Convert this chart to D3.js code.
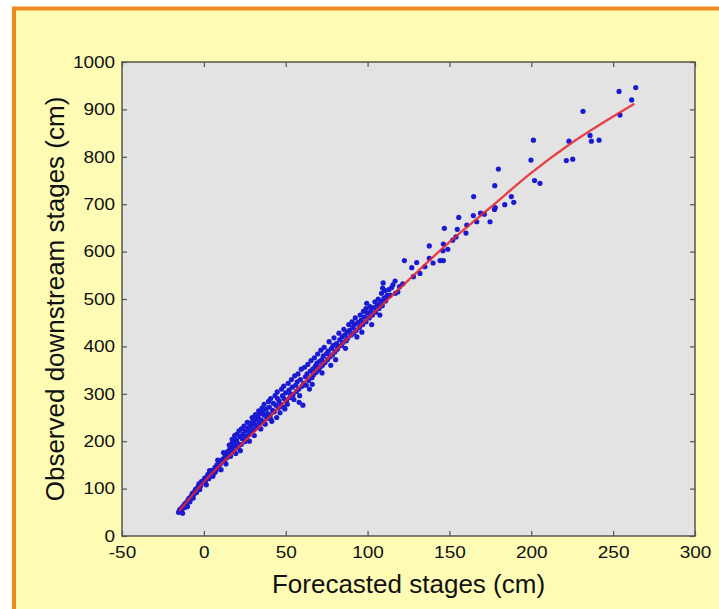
<!DOCTYPE html>
<html>
<head>
<meta charset="utf-8">
<script src="https://cdn.jsdelivr.net/npm/d3@7"></script>
<style>
  html, body { margin: 0; padding: 0; background: #fff; }
  svg { display: block; }
</style>
</head>
<body>
<svg id="chart"></svg>
<script>
// tick values
const xTicks = [-50, 0, 50, 100, 150, 200, 250, 300];
const yTicks = [0, 100, 200, 300, 400, 500, 600, 700, 800, 900, 1000];

// red fitted curve [forecast, observed]
const fitLine = [
  [-15, 53], [0, 114], [25, 200], [50, 285], [75, 372], [100, 458],
  [125, 540], [150, 620], [175, 693], [200, 766], [225, 830], [250, 885], [263, 912]
];

// scatter points [forecast, observed]
const observed = [
  [-15.5, 50], [-14.8, 55], [-14, 58], [-13.5, 54], [-12.8, 62], [-12, 66], [-11, 70], [-10.5, 68],
  [-9.8, 75], [-9, 80], [-8.2, 78], [-7.5, 86], [-7, 90], [-6, 88], [-5.5, 95], [-5, 99],
  [-4, 97], [-3.5, 104], [-3, 110], [-2, 106], [-1.5, 115], [-1, 112], [0, 118], [0.5, 122],
  [1, 116], [1.8, 125], [2.5, 130], [3, 121], [3.8, 128], [4.5, 134], [5, 138], [6, 132],
  [6.8, 145], [7.5, 140], [8, 150], [9, 147], [9.5, 155], [10, 152], [11, 160], [11.8, 163],
  [12.5, 158], [13, 170], [14, 165], [14.5, 178], [15, 174], [16, 185], [16.8, 180], [17, 195],
  [17.5, 188], [18, 200], [18.5, 178], [19, 190], [20, 203], [20.5, 196], [21, 186], [22, 210],
  [22.8, 193], [23.5, 205], [24, 215], [25, 199], [25.5, 222], [26, 210], [27, 228], [27.5, 214],
  [28, 238], [28.5, 220], [29, 232], [30, 241], [30.5, 224], [31, 236], [32, 246], [32.5, 229],
  [33, 252], [34, 238], [34.5, 258], [35, 245], [36, 262], [36.5, 240], [37, 255], [38, 268],
  [38.5, 248], [39, 258], [40, 272], [40.5, 255], [41, 246], [42, 265], [42.5, 280], [43, 262],
  [44, 276], [44.5, 250], [45, 290], [45.5, 270], [46, 285], [47, 278], [48, 296], [48.5, 272],
  [49, 290], [50, 302], [50.5, 285], [51, 278], [52, 308], [52.5, 292], [53, 300], [54, 314],
  [54.5, 298], [55, 288], [56, 318], [56.5, 305], [57, 325], [58, 310], [58.5, 296], [59, 330],
  [60, 316], [60.5, 276], [61, 322], [62, 336], [62.5, 318], [63, 342], [64, 328], [64.5, 310],
  [65, 348], [66, 334], [66.5, 352], [67, 340], [68, 358], [68.5, 345], [69, 364], [70, 350],
  [70.5, 368], [71, 356], [72, 372], [72.5, 360], [73, 380], [74, 366], [75, 385], [75.5, 372],
  [76, 390], [77, 378], [78, 396], [78.5, 382], [79, 402], [80, 388], [81, 406], [81.5, 394],
  [82, 398], [83, 414], [84, 402], [84.5, 420], [85, 408], [86, 424], [87, 412], [87.5, 430],
  [88, 418], [89, 434], [90, 424], [91, 440], [91.5, 428], [92, 446], [93, 434], [94, 450],
  [95, 440], [96, 455], [97, 446], [98, 462], [99, 452], [99.5, 491], [100, 470], [101, 460],
  [102, 475], [103, 466], [104, 482], [105, 472], [106, 488], [107, 480], [108, 495], [109, 486],
  [109.5, 534], [110, 502], [111, 496], [112, 508],
  [-13, 48], [-11.5, 60], [-10, 62], [-8.5, 72], [-6.5, 80], [-4.5, 92], [-2.5, 98], [1.5, 108],
  [3.5, 138], [5.5, 126], [7, 135], [8.5, 160], [10.5, 140], [12, 176], [13.5, 152], [15.5, 192],
  [16.3, 168], [17.3, 204], [18.8, 212], [19.5, 174], [20.2, 215], [21.5, 222], [22.3, 180], [23, 226],
  [24.5, 232], [26.5, 240], [27.8, 200], [29.5, 250], [30.8, 212], [31.5, 256], [33.5, 264], [34.8, 226],
  [35.5, 270], [36.8, 278], [37.5, 236], [39.5, 284], [40.8, 290], [41.5, 242], [43.5, 296], [44.8, 304],
  [46.5, 260], [47.5, 310], [48.8, 316], [49.5, 268], [51.5, 322], [53.5, 330], [55.5, 338], [57.5, 342],
  [58.2, 282], [59.5, 352], [61.5, 356], [63.5, 362], [65.5, 370], [66.2, 320], [67.5, 376], [69.5, 384],
  [71.5, 392], [72.2, 344], [73.5, 398], [76.5, 410], [77.5, 360], [79.5, 418], [80.5, 372], [82.5, 428],
  [85.5, 436], [86.5, 396], [88.5, 446], [90.5, 452], [92.5, 460], [93.5, 420], [95.5, 466], [96.5, 430],
  [97.5, 474], [99, 480], [101.5, 484], [102.5, 446], [104.5, 494], [106.5, 500], [107.5, 466], [108.5, 512],
  [110.5, 518], [113, 520], [115.5, 530], [117, 512],
  [109.2, 523], [111.8, 505], [113.7, 508], [114.7, 524], [116.8, 538], [118.5, 515], [119.5, 526],
  [121.5, 532], [122.5, 581], [127, 566], [128, 547], [130, 577], [132, 554], [135, 568],
  [137.7, 586], [137.7, 612], [140, 576], [144.3, 581], [146, 602], [146.3, 581], [146.3, 616],
  [146.9, 649], [149, 605], [152, 624], [154, 631], [154.8, 647], [155.7, 672], [160.1, 639],
  [160.6, 656], [164.6, 676], [164.8, 716], [166.7, 663], [169, 681], [171.3, 679], [174.8, 663],
  [177.5, 689], [177.7, 739], [178, 693], [179.9, 774], [183.8, 699], [187.8, 716], [189.3, 704],
  [199.8, 793], [201.3, 835], [202, 750], [205.3, 744], [221.4, 792], [223, 833], [225.3, 795],
  [231.6, 896], [235.9, 845], [236.7, 833], [241.4, 835], [253.6, 938], [254.2, 888],
  [261.3, 920], [263.8, 946]
];

const W = 719, H = 609;
const svg = d3.select('#chart').attr('width', W).attr('height', H);

// page background panel
svg.append('rect')
  .attr('x', 14).attr('y', 8.5)
  .attr('width', 760).attr('height', 660)
  .attr('fill', '#fefcb4')
  .attr('stroke', '#ee8a1e')
  .attr('stroke-width', 4);

const x = d3.scaleLinear().domain([-50, 300]).range([122, 695]);
const y = d3.scaleLinear().domain([0, 1000]).range([536, 62]);

// plot area
svg.append('rect')
  .attr('x', x(-50)).attr('y', y(1000))
  .attr('width', x(300) - x(-50)).attr('height', y(0) - y(1000))
  .attr('fill', '#e3e3e3');

// scatter
svg.append('g')
  .selectAll('circle')
  .data(observed)
  .join('circle')
  .attr('cx', d => x(d[0]))
  .attr('cy', d => y(d[1]))
  .attr('r', 2.6)
  .attr('fill', '#1a1ad2');

// fitted curve
svg.append('path')
  .datum(fitLine)
  .attr('fill', 'none')
  .attr('stroke', '#e8262b')
  .attr('stroke-opacity', 0.85)
  .attr('stroke-width', 2.4)
  .attr('d', d3.line().x(d => x(d[0])).y(d => y(d[1])).curve(d3.curveMonotoneX));

// axes with inward ticks
const fontFam = 'Liberation Sans, Arial, sans-serif';
const frameColor = '#55554a';

const styleAxis = g => {
  g.select('.domain').remove();
  g.selectAll('.tick line').attr('stroke', frameColor).attr('stroke-width', 1.2);
  g.selectAll('.tick text')
    .attr('fill', '#111')
    .attr('font-size', 16.5)
    .attr('font-family', fontFam)
    .attr('transform', 'scale(1.15,1)');
};

const plain = d => String(d);

svg.append('g')
  .attr('transform', `translate(0,${y(0)})`)
  .call(d3.axisBottom(x).tickValues(xTicks).tickFormat(plain).tickSizeInner(-5).tickSizeOuter(0).tickPadding(10))
  .call(styleAxis);

svg.append('g')
  .attr('transform', `translate(0,${y(1000)})`)
  .call(d3.axisTop(x).tickValues(xTicks).tickSizeInner(-5).tickSizeOuter(0).tickFormat(''))
  .call(styleAxis);

svg.append('g')
  .attr('transform', `translate(${x(-50)},0)`)
  .call(d3.axisLeft(y).tickValues(yTicks).tickFormat(plain).tickSizeInner(-5).tickSizeOuter(0).tickPadding(6))
  .call(styleAxis);

svg.append('g')
  .attr('transform', `translate(${x(300)},0)`)
  .call(d3.axisRight(y).tickValues(yTicks).tickSizeInner(-5).tickSizeOuter(0).tickFormat(''))
  .call(styleAxis);

// frame
svg.append('rect')
  .attr('x', x(-50)).attr('y', y(1000))
  .attr('width', x(300) - x(-50)).attr('height', y(0) - y(1000))
  .attr('fill', 'none')
  .attr('stroke', frameColor)
  .attr('stroke-width', 1.5);

// axis titles
svg.append('text')
  .attr('x', (x(-50) + x(300)) / 2)
  .attr('y', 593)
  .attr('text-anchor', 'middle')
  .attr('font-family', fontFam)
  .attr('font-size', 26)
  .attr('fill', '#111')
  .text('Forecasted stages (cm)');

svg.append('text')
  .attr('transform', `translate(64,${(y(0) + y(1000)) / 2}) rotate(-90)`)
  .attr('text-anchor', 'middle')
  .attr('font-family', fontFam)
  .attr('font-size', 26)
  .attr('fill', '#111')
  .text('Observed downstream stages (cm)');
</script>
</body>
</html>
